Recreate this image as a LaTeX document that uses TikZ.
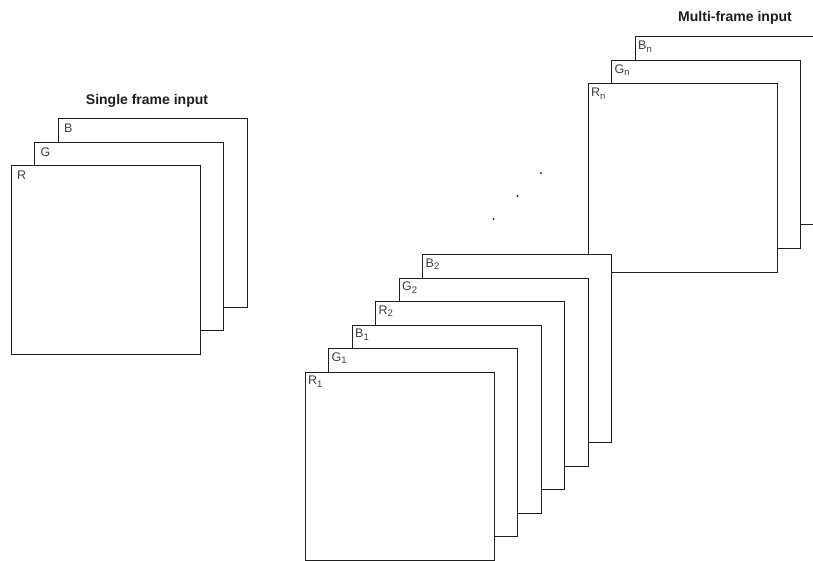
\documentclass[tikz,border=0pt]{standalone}
\usepackage{fontspec}
\setmainfont{Liberation Sans}
\usepackage{xcolor}
\usepackage{tikz}
\usetikzlibrary{positioning}
\definecolor{Ink}{HTML}{1E1E1E}
\definecolor{Dot}{HTML}{333333}
\tikzset{
  framebox/.style={rectangle, draw=Ink, fill=white, line width=1pt, inner sep=0pt, minimum width=189pt, minimum height=188pt},
  labelwide/.style={anchor=north west, inner xsep=6.5pt, inner ysep=5.5pt, font=\fontsize{12.5}{14}\selectfont, text=Ink!85},
  labelnarrow/.style={anchor=north west, inner xsep=3.5pt, inner ysep=4.5pt, font=\fontsize{12.5}{14}\selectfont, text=Ink!85},
  titletext/.style={font=\bfseries\fontsize{14}{16}\selectfont, text=Ink},
}
\newcommand{\chsub}[1]{\raisebox{-2.5pt}{\fontsize{9.5}{10}\selectfont #1}}

\begin{document}
\begin{tikzpicture}[x=1pt,y=-1pt]
\path[use as bounding box] (0,0) rectangle (813,561);
\clip (0,0) rectangle (813,561);
\fill[white] (0,0) rectangle (813,561);

% single frame stack
\node[titletext] (singletitle) at (147,101) {Single frame input};
\node[framebox] (bf) at (152.5,213) {};
\node[labelwide] at (bf.north west) {B};
\node[framebox] (gf) at (129,236.5) {};
\node[labelwide] at (gf.north west) {G};
\node[framebox] (rf) at (105.5,260) {};
\node[labelwide] at (rf.north west) {R};

% last frame, drawn first so the others cover it
\node[titletext] (multititle) at (735,18) {Multi-frame input};
\node[framebox] (bn) at (729.5,131) {};
\node[labelnarrow] at (bn.north west) {B\chsub{n}};
\node[framebox] (gn) at (706,154.5) {};
\node[labelnarrow] at (gn.north west) {G\chsub{n}};
\node[framebox] (rn) at (682.5,178) {};
\node[labelnarrow] at (rn.north west) {R\chsub{n}};

% ellipsis between the stacks
\fill[Dot] (541,173) circle (1.1);
\fill[Dot] (517.5,196) circle (1.1);
\fill[Dot] (493.5,219) circle (1.1);

% frames 2 and 1
\node[framebox] (b2) at (517,348.5) {};
\node[labelnarrow] at (b2.north west) {B\chsub{2}};
\node[framebox] (g2) at (493.5,372) {};
\node[labelnarrow] at (g2.north west) {G\chsub{2}};
\node[framebox] (r2) at (470,395.5) {};
\node[labelnarrow] at (r2.north west) {R\chsub{2}};
\node[framebox] (b1) at (446.5,419) {};
\node[labelnarrow] at (b1.north west) {B\chsub{1}};
\node[framebox] (g1) at (423,442.5) {};
\node[labelnarrow] at (g1.north west) {G\chsub{1}};
\node[framebox] (r1) at (399.5,466) {};
\node[labelnarrow] at (r1.north west) {R\chsub{1}};
\end{tikzpicture}
\end{document}
